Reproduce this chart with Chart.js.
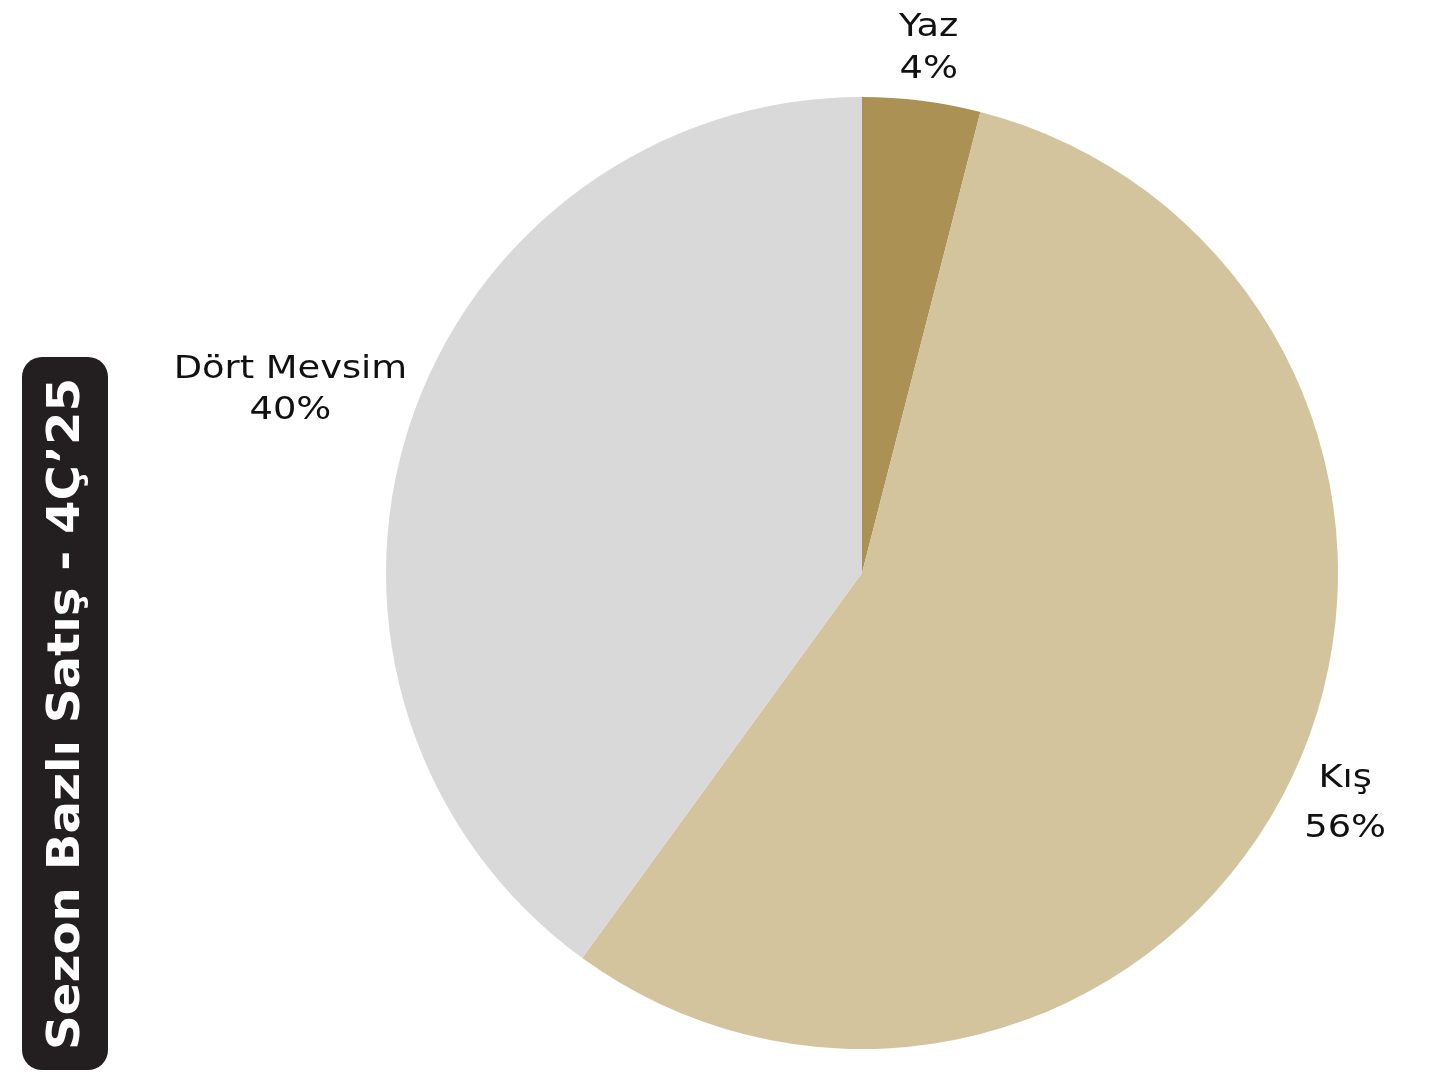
<!DOCTYPE html>
<html>
<head>
<meta charset="utf-8">
<script src="https://cdn.jsdelivr.net/npm/chart.js@4.4.1/dist/chart.umd.min.js"></script>
<style>
  html, body { margin: 0; padding: 0; background: #fff; }
  #wrap { width: 1437px; height: 1072px; position: relative; }
</style>
</head>
<body>
<div id="wrap"><canvas id="pie" width="1437" height="1072"></canvas></div>
<script>
const titleText = 'Sezon Bazlı Satış - 4Ç\u201925';
const categories = ['Yaz', 'Kış', 'Dört Mevsim'];
const shares = [4, 56, 40];
const sliceColors = ['#AB9254', '#D3C49E', '#D9D9D9'];
// distance from the rim to the label centre, and gap between the two lines
const labelOffset = [56, 58, 125];
const lineGap = [42, 50, 41];

// draws text stretched horizontally (the original font is wide)
function wideText(ctx, text, x, y, sx) {
    ctx.save();
    ctx.translate(x, y);
    ctx.scale(sx, 1);
    ctx.fillText(text, 0, 0);
    ctx.restore();
}

const titleBox = {
    id: 'titleBox',
    afterDraw: function (chart) {
        const ctx = chart.ctx;
        ctx.save();
        ctx.fillStyle = '#231F20';
        ctx.beginPath();
        ctx.roundRect(22, 357, 86, 713, 20);
        ctx.fill();
        ctx.translate(66, 714);
        ctx.rotate(-Math.PI / 2);
        ctx.fillStyle = '#ffffff';
        ctx.font = 'bold 44px "DejaVu Sans"';
        ctx.textAlign = 'center';
        ctx.textBaseline = 'middle';
        const w = ctx.measureText(titleText).width;
        wideText(ctx, titleText, 0, 2, 672 / w);
        ctx.restore();
    }
};

const outerLabels = {
    id: 'outerLabels',
    afterDatasetsDraw: function (chart) {
        const ctx = chart.ctx;
        const meta = chart.getDatasetMeta(0);
        ctx.save();
        ctx.font = '32px "DejaVu Sans"';
        ctx.fillStyle = '#111111';
        ctx.textAlign = 'center';
        ctx.textBaseline = 'middle';
        meta.data.forEach(function (arc, i) {
            const p = arc.getProps(['x', 'y', 'startAngle', 'endAngle', 'outerRadius'], true);
            const mid = (p.startAngle + p.endAngle) / 2;
            const d = p.outerRadius + labelOffset[i];
            const cx = p.x + Math.cos(mid) * d;
            const cy = p.y + Math.sin(mid) * d + 3;
            wideText(ctx, categories[i], cx, cy - lineGap[i] / 2, 1.15);
            wideText(ctx, shares[i] + '%', cx, cy + lineGap[i] / 2, 1.15);
        });
        ctx.restore();
    }
};

new Chart(document.getElementById('pie'), {
    type: 'pie',
    data: {
        labels: categories,
        datasets: [{
            data: shares,
            backgroundColor: sliceColors,
            borderWidth: 0,
        }],
    },
    options: {
        responsive: false,
        animation: false,
        layout: { padding: { left: 386, right: 99, top: 97, bottom: 23 } },
        plugins: {
            legend: { display: false },
            tooltip: { enabled: false },
        },
    },
    plugins: [titleBox, outerLabels],
});
</script>
</body>
</html>
